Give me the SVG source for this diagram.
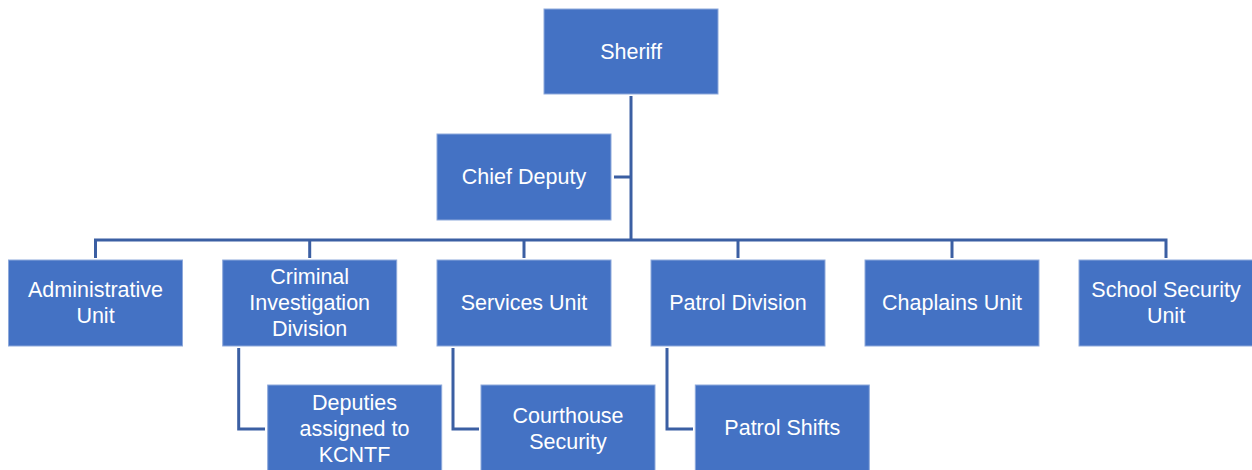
<svg xmlns="http://www.w3.org/2000/svg" width="1252" height="470" viewBox="0 0 1252 470">
<style>
.box{fill:#4472C4;stroke:#8EA9DB;stroke-width:1}
.t{fill:#FFFFFF;font-family:"Liberation Sans",Arial,sans-serif;font-size:21.5px;text-anchor:middle}
.c{fill:none;stroke:#3B5FA3;stroke-width:3;stroke-linejoin:miter}
</style>
<rect width="1252" height="470" fill="#FFFFFF"/>
<g id="connectors">
<path class="c" d="M631,96 V240"/>
<path class="c" d="M614,177 H631"/>
<path class="c" d="M95.5,258 V240 H1166 V258"/>
<path class="c" d="M309.7,258 V240"/>
<path class="c" d="M524,258 V240"/>
<path class="c" d="M738,258 V240"/>
<path class="c" d="M952,258 V240"/>
<path class="c" d="M238.7,348 V429 H265"/>
<path class="c" d="M453,348 V429 H479"/>
<path class="c" d="M667,348 V429 H693"/>
</g>
<g id="sheriff"><rect class="box" x="544" y="9" width="174" height="85"/><text class="t" x="631" y="59">Sheriff</text></g>
<g id="chief-deputy"><rect class="box" x="437" y="134" width="174" height="86"/><text class="t" x="524" y="184">Chief Deputy</text></g>
<g id="administrative"><rect class="box" x="8.5" y="260" width="174" height="86"/><text class="t" x="95.5" y="297">Administrative</text><text class="t" x="95.5" y="323">Unit</text></g>
<g id="criminal"><rect class="box" x="222.7" y="260" width="174" height="86"/><text class="t" x="309.7" y="284">Criminal</text><text class="t" x="309.7" y="310">Investigation</text><text class="t" x="309.7" y="336">Division</text></g>
<g id="services"><rect class="box" x="437" y="260" width="174" height="86"/><text class="t" x="524" y="310">Services Unit</text></g>
<g id="patrol"><rect class="box" x="651" y="260" width="174" height="86"/><text class="t" x="738" y="310">Patrol Division</text></g>
<g id="chaplains"><rect class="box" x="865" y="260" width="174" height="86"/><text class="t" x="952" y="310">Chaplains Unit</text></g>
<g id="school"><rect class="box" x="1079" y="260" width="174" height="86"/><text class="t" x="1166" y="297">School Security</text><text class="t" x="1166" y="323">Unit</text></g>
<g id="deputies"><rect class="box" x="267.7" y="385" width="174" height="86"/><text class="t" x="354.5" y="410">Deputies</text><text class="t" x="354.5" y="436">assigned to</text><text class="t" x="354.5" y="462">KCNTF</text></g>
<g id="courthouse"><rect class="box" x="481" y="385" width="174" height="86"/><text class="t" x="568" y="423">Courthouse</text><text class="t" x="568" y="449">Security</text></g>
<g id="patrol-shifts"><rect class="box" x="695.3" y="385" width="174" height="86"/><text class="t" x="782.3" y="435">Patrol Shifts</text></g>
</svg>
